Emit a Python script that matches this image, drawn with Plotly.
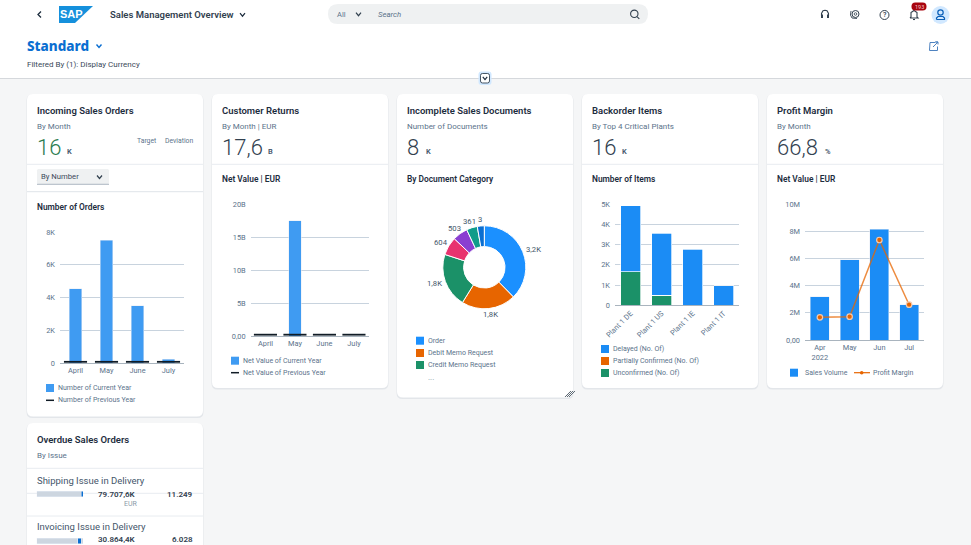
import math
import plotly.graph_objects as go

W, H = 971, 545
FONT = "Roboto"
INK = "#1d2d3e"
MUTED = "#5b738b"
GRID = "#c8d3de"
AXIS = "#a9b4be"

# chart data
months = ["April", "May", "June", "July"]
orders_current = [4535, 7500, 3500, 240]
orders_previous = [90, 90, 90, 90]
returns_current = [0.05, 17.5, 0.05, 0.05]
returns_previous = [0.2, 0.2, 0.2, 0.2]

# slice size, printed labels as shown (the "3" slice is drawn bigger than 3)
doc_categories = ["Order", "Debit Memo Request", "Credit Memo Request", "Cat 4", "Cat 5", "Cat 6", "Cat 7"]
doc_values = [3200, 1800, 1800, 604, 503, 361, 230]
doc_labels = ["3,2K", "1,8K", "1,8K", "604", "503", "361", "3"]
doc_colors = ["#1b90ff", "#e76500", "#1b9168", "#e8336f", "#8a3fd1", "#0f9c8a", "#0a6ed1"]

plants = ["Plant 1 DE", "Plant 1 US", "Plant 1 IE", "Plant 1 IT"]
delayed = [3280, 3050, 2770, 970]
partially = [0, 0, 0, 0]
unconfirmed = [1650, 510, 0, 0]

short_months = ["Apr<br>2022", "May", "Jun", "Jul"]
sales_volume = [3.2, 5.9, 8.18, 2.6]
profit_margin = [1.67, 1.72, 7.37, 2.6]

issues = ["Shipping Issue in Delivery", "Invoicing Issue in Delivery"]
issue_before = [95.7, 89.0]
issue_marker = [4.3, 7.0]
issue_after = [0, 4.0]


def X(x):
    return x / W


def Y(y):
    return 1 - y / H


shapes = []
annotations = []


def text(x, y, s, size=7, color=MUTED, anchor="left", bold=False, italic=False, weight=None, family=FONT):
    annotations.append(dict(
        x=X(x), y=Y(y), xref="paper", yref="paper", text=s, showarrow=False,
        xanchor=anchor, yanchor="middle", borderpad=0, borderwidth=0,
        font=dict(family=family, size=size, color=color,
                  weight=weight if weight else (600 if bold else 400),
                  style="italic" if italic else "normal"),
    ))


def path(points, fill=None, stroke=None, width=1, close=False):
    d = "M" + " L".join(f"{X(a):.5f},{Y(b):.5f}" for a, b in points)
    if close:
        d += " Z"
    shapes.append(dict(type="path", xref="paper", yref="paper", path=d, layer="below",
                       fillcolor=fill if fill else "rgba(0,0,0,0)",
                       line=dict(color=stroke if stroke else "rgba(0,0,0,0)", width=width)))


def rect(x0, y0, x1, y1, fill, r=0, stroke=None, width=1):
    if r:
        d = (f"M{X(x0+r):.5f},{Y(y0):.5f} L{X(x1-r):.5f},{Y(y0):.5f} Q{X(x1):.5f},{Y(y0):.5f} {X(x1):.5f},{Y(y0+r):.5f} "
             f"L{X(x1):.5f},{Y(y1-r):.5f} Q{X(x1):.5f},{Y(y1):.5f} {X(x1-r):.5f},{Y(y1):.5f} "
             f"L{X(x0+r):.5f},{Y(y1):.5f} Q{X(x0):.5f},{Y(y1):.5f} {X(x0):.5f},{Y(y1-r):.5f} "
             f"L{X(x0):.5f},{Y(y0+r):.5f} Q{X(x0):.5f},{Y(y0):.5f} {X(x0+r):.5f},{Y(y0):.5f} Z")
        shapes.append(dict(type="path", xref="paper", yref="paper", path=d, layer="below", fillcolor=fill,
                           line=dict(color=stroke if stroke else "rgba(0,0,0,0)", width=width)))
    else:
        shapes.append(dict(type="rect", xref="paper", yref="paper", x0=X(x0), x1=X(x1), y0=Y(y0), y1=Y(y1),
                           layer="below", fillcolor=fill,
                           line=dict(color=stroke if stroke else "rgba(0,0,0,0)", width=width)))


def circle(cx, cy, r, fill=None, stroke=None, width=1):
    shapes.append(dict(type="circle", xref="paper", yref="paper", x0=X(cx-r), x1=X(cx+r), y0=Y(cy+r), y1=Y(cy-r),
                       layer="below", fillcolor=fill if fill else "rgba(0,0,0,0)",
                       line=dict(color=stroke if stroke else "rgba(0,0,0,0)", width=width)))


def chevron(cx, cy, s=2.5, color=INK, width=1.2):
    path([(cx - s, cy - s * 0.6), (cx, cy + s * 0.6), (cx + s, cy - s * 0.6)], stroke=color, width=width)


def card(x0, y0, x1, y1, title, sub, kpi=None, unit=None, ux=None, kpi_color="#32414f"):
    rect(x0 - 0.5, y0 + 0.5, x1 + 0.5, y1 + 1.5, "#e3e6ea", r=6)
    rect(x0, y0, x1, y1, "#ffffff", r=6)
    text(x0 + 9.7, y0 + 16, title, size=9.5, color=INK, bold=True)
    text(x0 + 9.7, y0 + 32, sub, size=8, color=MUTED)
    if kpi:
        text(x0 + 9.5, y0 + 53.5, kpi, size=22, color=kpi_color, weight=300)
        text(ux, y0 + 57, unit, size=7.5, color="#44566a", bold=True)
    path([(x0, y0 + 70.3), (x1, y0 + 70.3)], stroke="#e8ecf0", width=1)


def legend_box(x, y, s, color, gap=11.5):
    rect(x, y - 4, x + 8, y + 4, color)
    text(x + gap, y, s)


def legend_dash(x, y, s):
    path([(x, y), (x + 8, y)], stroke="#111c26", width=1.5)
    text(x + 11.5, y, s)


# page and header
rect(0, 0, W, 78, "#ffffff")
path([(0, 78.5), (W, 78.5)], stroke="#d5d8dc", width=1)
path([(41, 11.5), (38, 14.5), (41, 17.5)], stroke=INK, width=1.3)
path([(59, 6), (93, 6), (75, 23), (59, 23)], fill="#1590dc", close=True)
text(60, 14.2, "SAP", size=11, color="#ffffff", bold=True, family="Liberation Sans")
text(110, 14.5, "Sales Management Overview", size=9.5, color="#32414f", bold=True)
chevron(242.5, 14.7)
rect(328, 4, 648, 24, "#eff1f2", r=10)
text(337, 14, "All", size=7.5, color=MUTED)
chevron(358.5, 14.2, color="#32414f")
text(378, 14.3, "Search", size=7.8, color=MUTED, italic=True)
circle(634.3, 13.8, 3.7, stroke="#32414f", width=1.1)
path([(637, 16.6), (639.3, 18.8)], stroke="#32414f", width=1.1)

# shell icons
path([(821.5, 16), (821.5, 13.5), (823, 10.8), (825, 10.2), (827, 10.8), (828.5, 13.5), (828.5, 16)], stroke="#32414f", width=1.1)
rect(821, 14.5, 823, 18, "#32414f")
rect(827, 14.5, 829, 18, "#32414f")
circle(855.5, 14, 3.5, stroke="#32414f", width=1)
circle(855.5, 14, 1.3, stroke="#32414f", width=0.8)
path([(851, 11), (850.5, 15), (852, 18), (857, 18.5)], stroke="#32414f", width=0.9)
circle(884.5, 15, 4.5, stroke="#32414f", width=1)
text(884.5, 15, "?", size=7, color="#32414f", anchor="center", bold=True)
path([(910, 18), (911, 17), (911, 12.5), (914, 10.5), (917, 12.5), (917, 17), (918, 18), (910, 18)], stroke="#32414f", width=1.1)
path([(913, 19.5), (915, 19.5)], stroke="#32414f", width=1.1)
rect(911.5, 2.5, 926.5, 10.5, "#a8050f", r=3.8)
text(919, 6.6, "193", size=5.5, color="#f7c6c6", anchor="center")
circle(940.5, 15, 9, fill="#d1e8ff")
circle(940.5, 12.5, 2.7, stroke="#0a5fb8", width=1.2)
path([(936.5, 19.5), (936.5, 18), (938, 16.5), (943, 16.5), (944.5, 18), (944.5, 19.5), (936.5, 19.5)], stroke="#0a5fb8", width=1.2)

text(27, 45.5, "Standard", size=13.5, color="#0a6ed1", weight=800, family="Noto Sans")
chevron(99, 46, color="#0a6ed1", width=1.4)
text(27, 64.5, "Filtered By (1): Display Currency", size=8, color="#3b4a5a")
path([(935, 42.5), (930, 42.5), (929.5, 50.5), (937.5, 50.5), (937.5, 46.5)], stroke="#4d82c0", width=1)
path([(933, 47), (938, 42), (935.3, 42), (938, 42), (938, 44.5)], stroke="#4d82c0", width=1)
rect(478.5, 71.5, 491.5, 85, "#d1e8ff", r=3)
rect(480.5, 73.5, 489.5, 83, "#ffffff", r=2, stroke="#1d2d3e", width=0.8)
chevron(485, 78.2, s=2.2, color="#1d2d3e")

# cards
card(27, 94, 203, 416.5, "Incoming Sales Orders", "By Month", "16", "K", 66.5, "#2b7c4f")
card(212, 94, 388, 388, "Customer Returns", "By Month | EUR", "17,6", "B", 267.5)
card(397, 94, 573, 397.5, "Incomplete Sales Documents", "Number of Documents", "8", "K", 425.5)
card(582, 94, 758, 388, "Backorder Items", "By Top 4 Critical Plants", "16", "K", 621.5)
card(767, 94, 943, 388, "Profit Margin", "By Month", "66,8", "%", 825)
card(27, 423, 203, 600, "Overdue Sales Orders", "By Issue")
path([(27, 468.3), (203, 468.3)], stroke="#e8ecf0", width=1)
path([(27, 516), (203, 516)], stroke="#e8ecf0", width=1)

text(137, 141.5, "Target", size=6.8)
text(164.5, 141.5, "Deviation", size=6.8)
rect(37, 169, 109, 184, "#eff1f2", r=1.5)
path([(37, 184.3), (109, 184.3)], stroke="#98a5b2", width=0.8)
text(41, 176.5, "By Number", size=7.7, color="#3b4a5a")
chevron(99.5, 177, color="#32414f")
path([(27, 191.7), (203, 191.7)], stroke="#dfe4e9", width=1)

text(36.5, 206.7, "Number of Orders", size=8.4, color=INK, bold=True)
text(221.7, 179, "Net Value | EUR", size=8.4, color=INK, bold=True)
text(406.7, 179, "By Document Category", size=8.4, color=INK, bold=True)
text(591.7, 179, "Number of Items", size=8.4, color=INK, bold=True)
text(776.7, 179, "Net Value | EUR", size=8.4, color=INK, bold=True)

legend_box(46, 388, "Number of Current Year", "#3f9bf2")
legend_dash(46, 400.3, "Number of Previous Year")
legend_box(231, 360.7, "Net Value of Current Year", "#3f9bf2")
legend_dash(231, 372.7, "Net Value of Previous Year")
legend_box(416, 340.7, doc_categories[0], doc_colors[0])
legend_box(416, 353, doc_categories[1], doc_colors[1])
legend_box(416, 365, doc_categories[2], doc_colors[2])
text(427.5, 377.5, "...", size=8, color="#8a99a8")
legend_box(601, 349, "Delayed (No. Of)", "#1b8cf5")
legend_box(601, 361, "Partially Confirmed (No. Of)", "#e76500")
legend_box(601, 373, "Unconfirmed (No. Of)", "#1b9168")
legend_box(790, 372.7, "Sales Volume", "#1b8cf5", gap=15.3)
path([(854, 372.7), (870, 372.7)], stroke="#e76500", width=1.2)
circle(861.7, 372.7, 1.8, fill="#e76500")
text(872.7, 372.7, "Profit Margin")

# resize grip
for k in (0, 2, 4):
    path([(565 + k, 397), (571 + k, 391)], stroke="#32414f", width=0.8)

# overdue list text
text(36.7, 480, issues[0], size=9.5, color="#44566a")
text(135.7, 494.5, "79.707,6K", size=8, color="#32414f", anchor="right", bold=True)
text(192.7, 494.5, "11.249", size=8, color="#32414f", anchor="right", bold=True)
text(137.5, 504, "EUR", size=7, color="#8a99a8", anchor="right")
text(36.7, 526.7, issues[1], size=9.5, color="#44566a")
text(135.7, 539.5, "30.864,4K", size=8, color="#32414f", anchor="right", bold=True)
text(192.7, 539.5, "6.028", size=8, color="#32414f", anchor="right", bold=True)

fig = go.Figure()


def axes(n, x0, x1, ytop, ybot, yrange, ytickvals, yticktext, xvals=None, xtext=None, angle=0):
    suffix = "" if n == 1 else str(n)
    fig.layout["xaxis" + suffix] = dict(
        domain=[X(x0), X(x1)], anchor="y" + suffix, range=[-0.5, 3.5], fixedrange=True, automargin=False,
        tickmode="array", tickvals=xvals, ticktext=xtext, tickangle=angle, ticks="", showgrid=False,
        showline=True, linecolor=AXIS, linewidth=1, zeroline=False,
        tickfont=dict(family=FONT, size=7.4, color=MUTED),
    )
    fig.layout["yaxis" + suffix] = dict(
        domain=[Y(ybot), Y(ytop)], anchor="x" + suffix, range=yrange, fixedrange=True, automargin=False,
        tickmode="array", tickvals=ytickvals, ticktext=yticktext, ticks="", showgrid=True,
        gridcolor=GRID, gridwidth=1, zeroline=False, ticklabelstandoff=4,
        tickfont=dict(family=FONT, size=7.4, color=MUTED),
    )


# chart 1: incoming sales orders
axes(1, 60, 184, 232, 363.3, [0, 8000], [0, 2000, 4000, 6000, 8000], ["0", "2K", "4K", "6K", "8K"],
     months, months)
fig.add_trace(go.Bar(x=months, y=orders_current, width=0.4, marker_color="#3f9bf2", xaxis="x", yaxis="y"))
fig.add_trace(go.Scatter(x=months, y=orders_previous, mode="markers", xaxis="x", yaxis="y", cliponaxis=False,
                         marker=dict(symbol="line-ew", size=16.5, line=dict(color="#111c26", width=1.8))))

# chart 2: customer returns
axes(2, 250.7, 368.7, 204.3, 336, [0, 20], [0, 5, 10, 15, 20], ["0,00", "5B", "10B", "15B", "20B"],
     months, months)
fig.add_trace(go.Bar(x=months, y=returns_current, width=0.42, marker_color="#3f9bf2", xaxis="x2", yaxis="y2"))
fig.add_trace(go.Scatter(x=months, y=returns_previous, mode="markers", xaxis="x2", yaxis="y2", cliponaxis=False,
                         marker=dict(symbol="line-ew", size=16.5, line=dict(color="#111c26", width=1.8))))

# chart 3: incomplete documents donut, labels placed around the ring from the slice angles
pie_cx, pie_cy, pie_r = 484.3, 267.3, 41.5
fig.add_trace(go.Pie(
    labels=doc_categories, values=doc_values, textinfo="none",
    hole=0.5, sort=False, direction="clockwise", rotation=0, automargin=False,
    marker=dict(colors=doc_colors, line=dict(color="#ffffff", width=1)),
    domain=dict(x=[X(pie_cx - pie_r), X(pie_cx + pie_r)], y=[Y(pie_cy + pie_r), Y(pie_cy - pie_r)]),
))
total = sum(doc_values)
running = 0
for value, label in zip(doc_values, doc_labels):
    mid = (running + value / 2) / total * 2 * math.pi
    running += value
    half = len(label) * 2.15
    text(pie_cx + (pie_r + 3 + half) * math.sin(mid), pie_cy - (pie_r + 6) * math.cos(mid), label,
         size=7.7, color="#44566a", anchor="center")

# chart 4: backorder items
axes(3, 615, 739, 204.3, 305.3, [0, 5000], [0, 1000, 2000, 3000, 4000, 5000], ["0", "1K", "2K", "3K", "4K", "5K"],
     plants, plants, angle=-45)
for vals, color in ((unconfirmed, "#1b9168"), (partially, "#e76500"), (delayed, "#1b8cf5")):
    fig.add_trace(go.Bar(x=plants, y=vals, width=0.645, marker=dict(color=color, line=dict(color="#ffffff", width=0.7)),
                         xaxis="x3", yaxis="y3"))

# chart 5: profit margin
axes(4, 805, 924, 204.3, 340, [0, 10], [0, 2, 4, 6, 8, 10], ["0,00", "2M", "4M", "6M", "8M", "10M"],
     short_months, short_months)
fig.add_trace(go.Bar(x=short_months, y=sales_volume, width=0.64, marker_color="#1b8cf5", xaxis="x4", yaxis="y4"))
fig.add_trace(go.Scatter(x=short_months, y=profit_margin, mode="lines+markers", xaxis="x4", yaxis="y4", cliponaxis=False,
                         line=dict(color="rgba(231,101,0,0.75)", width=1.5),
                         marker=dict(color="#e76500", size=5.5, line=dict(color="#f3c9ae", width=1.2))))

# overdue bullets, rows at 494 and 541 on a 47px step
fig.layout["xaxis5"] = dict(domain=[X(36.7), X(83)], anchor="y5", range=[0, 100], visible=False, fixedrange=True)
fig.layout["yaxis5"] = dict(domain=[Y(545), Y(470)], anchor="x5", range=[1.085, -0.51], visible=False, fixedrange=True,
                            type="linear")
for vals, color in ((issue_before, "#cdd6e0"), (issue_marker, "#0a6ed1"), (issue_after, "#cdd6e0")):
    fig.add_trace(go.Bar(y=[0, 1], x=vals, orientation="h", width=0.11, marker_color=color, xaxis="x5", yaxis="y5"))

fig.update_layout(
    width=W, height=H, margin=dict(l=0, r=0, t=0, b=0, pad=0, autoexpand=False),
    paper_bgcolor="#f5f6f7", plot_bgcolor="rgba(0,0,0,0)",
    barmode="stack", showlegend=False, font=dict(family=FONT),
    shapes=shapes, annotations=annotations,
)

# the page's default body margin would push the figure off the window
fig.write_html("out.html", config={"displayModeBar": False}, post_script="document.body.style.margin='0';")
